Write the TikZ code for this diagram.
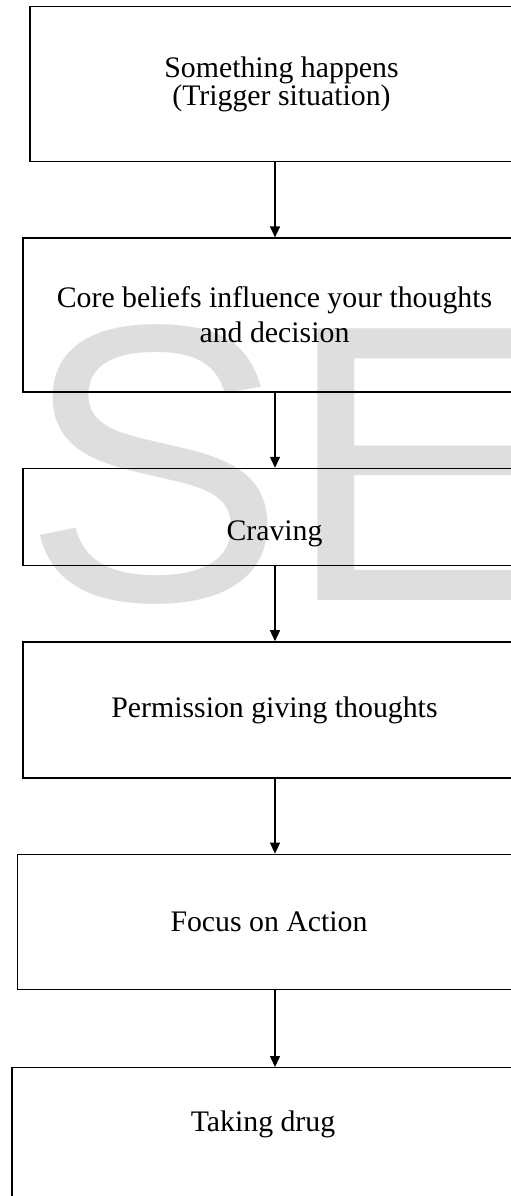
\documentclass[tikz,border=0pt]{standalone}
\usepackage{fontspec}
\setmainfont{Liberation Serif}
\newfontfamily\wmfont{Liberation Sans}
\usetikzlibrary{positioning,arrows.meta}
\colorlet{mark gray}{black!13}
\tikzset{stage/.style={draw, line width=1.4pt, align=center, inner sep=0pt,
		minimum width=503pt, font=\fontsize{29.8}{28.3}\selectfont},
	flow/.style={line width=1.4pt, -{Triangle[length=11pt,width=10pt]}}}

\begin{document}
\begin{tikzpicture}[x=1pt, y=1pt, node distance=75pt]
	\useasboundingbox (0,0) rectangle (511,-1196);
	% watermark behind everything
	\node[anchor=base west, inner sep=0pt, text=mark gray,
		font=\wmfont\fontsize{395}{395}\selectfont] (mark) at (22,-600) {SE};
	\coordinate (spine) at (275,0);
	\node[stage, minimum height=155pt, anchor=north] (trigger) at (281.5,-6)
		{Something happens\\(Trigger situation)};
	\node[stage, minimum height=154pt, below=of trigger, xshift=-7pt] (core)
		{Core beliefs influence your thoughts\\[6.7pt]and decision};
	\node[stage, text height=72pt, text depth=25pt, below=of core] (craving) {Craving};
	\node[stage, minimum height=136pt, below=of craving] (permit) {Permission giving thoughts};
	\node[stage, minimum height=135pt, below=of permit, xshift=-5.5pt] (focus) {Focus on Action};
	\node[stage, text height=64pt, text depth=90pt, minimum width=502pt,
		below=77pt of focus, xshift=-6pt] (drug) {Taking drug};
	\foreach \a/\b in {trigger/core, core/craving, craving/permit, permit/focus, focus/drug}
		\draw[flow] (\a.south -| spine) -- (\b.north -| spine);
\end{tikzpicture}
\end{document}
